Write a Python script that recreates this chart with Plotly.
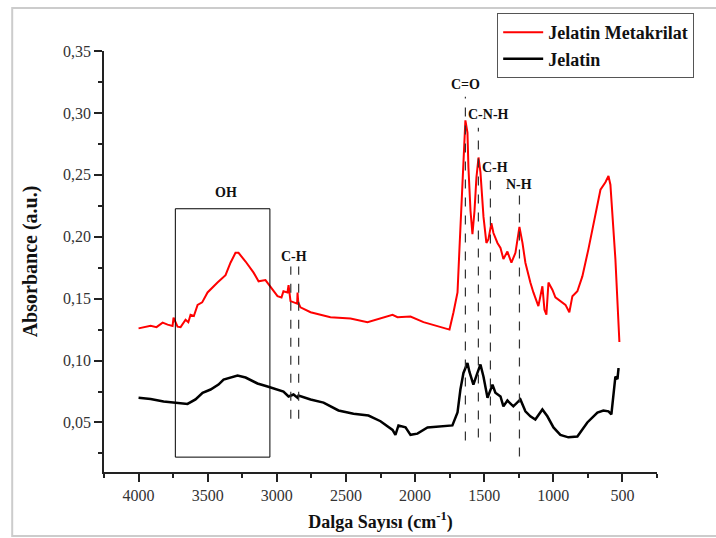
import plotly.graph_objects as go

# ---- data ----
red_x = [4000, 3913, 3870, 3826, 3790, 3754, 3747, 3718, 3696, 3660, 3640, 3624, 3600, 3573, 3540, 3501, 3429,
         3371, 3335, 3299, 3277, 3226, 3168, 3132, 3082, 3046, 2995, 2966, 2952, 2923, 2915, 2901, 2870, 2853,
         2850, 2845, 2829, 2756, 2612, 2467, 2344, 2250, 2163, 2127, 2033, 1939, 1838, 1766, 1751, 1722, 1693,
         1679, 1664, 1650, 1636, 1621, 1614, 1599, 1585, 1570, 1556, 1541, 1527, 1505, 1484, 1469, 1448, 1433,
         1404, 1382, 1361, 1332, 1303, 1274, 1245, 1223, 1202, 1166, 1144, 1108, 1079, 1064, 1050, 1035, 1006,
         985, 949, 912, 884, 862, 826, 790, 746, 696, 659, 623, 601, 587, 551, 522]
red_y = [0.126, 0.128, 0.127, 0.1306, 0.129, 0.128, 0.1347, 0.1274, 0.127, 0.133, 0.131, 0.137, 0.136, 0.145,
         0.147, 0.155, 0.163, 0.169, 0.179, 0.187, 0.187, 0.180, 0.171, 0.164, 0.165, 0.160, 0.152, 0.151, 0.156,
         0.155, 0.161, 0.148, 0.147, 0.146, 0.155, 0.147, 0.143, 0.139, 0.135, 0.134, 0.131, 0.134, 0.137, 0.135,
         0.1355, 0.131, 0.128, 0.126, 0.125, 0.139, 0.155, 0.190, 0.230, 0.256, 0.294, 0.284, 0.256, 0.221, 0.202,
         0.221, 0.248, 0.264, 0.252, 0.216, 0.195, 0.198, 0.211, 0.203, 0.195, 0.191, 0.182, 0.188, 0.179, 0.187,
         0.208, 0.195, 0.179, 0.163, 0.155, 0.144, 0.160, 0.141, 0.137, 0.163, 0.157, 0.151, 0.148, 0.145, 0.139,
         0.152, 0.156, 0.168, 0.190, 0.216, 0.238, 0.244, 0.249, 0.242, 0.182, 0.115]

black_x = [4000, 3913, 3819, 3747, 3646, 3588, 3537, 3479, 3422, 3385, 3284, 3226, 3140, 3067, 3024, 2952, 2915,
           2879, 2850, 2843, 2756, 2662, 2554, 2445, 2337, 2250, 2163, 2142, 2120, 2069, 2033, 1983, 1910, 1795,
           1730, 1693, 1672, 1650, 1621, 1607, 1578, 1549, 1527, 1505, 1476, 1440, 1419, 1382, 1361, 1332, 1289,
           1238, 1202, 1166, 1130, 1079, 1043, 999, 949, 891, 826, 754, 681, 638, 601, 580, 565, 551, 536, 529, 520]
black_y = [0.070, 0.069, 0.067, 0.066, 0.065, 0.0686, 0.074, 0.0766, 0.0806, 0.0847, 0.0879, 0.0863, 0.0815,
           0.079, 0.0774, 0.075, 0.071, 0.0726, 0.070, 0.0718, 0.0686, 0.066, 0.0597, 0.057, 0.0556, 0.051, 0.044,
           0.040, 0.0476, 0.046, 0.040, 0.041, 0.046, 0.047, 0.0476, 0.058, 0.0766, 0.090, 0.098, 0.091, 0.0806,
           0.090, 0.0968, 0.087, 0.070, 0.0806, 0.074, 0.071, 0.063, 0.0677, 0.063, 0.0686, 0.059, 0.055, 0.0524,
           0.0605, 0.055, 0.046, 0.040, 0.038, 0.0387, 0.050, 0.058, 0.0597, 0.059, 0.0565, 0.074, 0.087, 0.085,
           0.093, 0.093]

series_names = ["Jelatin Metakrilat", "Jelatin"]

# band markers: wavenumber, dashed line top/bottom (absorbance)
band_x = [2899, 2842, 1636, 1542, 1455, 1245]
band_top = [0.176, 0.176, 0.313, 0.288, 0.2476, 0.234]
band_bottom = [0.053, 0.053, 0.0355, 0.0379, 0.0347, 0.0226]

label_text = ["OH", "C-H", "C=O", "C-N-H", "C-H", "N-H"]
label_x = [3367, 2879, 1636, 1469, 1419, 1245]
label_y = [0.2355, 0.184, 0.323, 0.299, 0.2556, 0.242]

oh_box_x = [3734, 3050]
oh_box_y = [0.022, 0.2226]

serif = "Liberation Serif"

fig = go.Figure()
fig.add_trace(go.Scatter(x=red_x, y=red_y, mode="lines", name="<b>%s</b>" % series_names[0],
                         line=dict(color="#ff0000", width=2)))
fig.add_trace(go.Scatter(x=black_x, y=black_y, mode="lines", name="<b>%s</b>" % series_names[1],
                         line=dict(color="#000000", width=2.5)))

shapes = []
for bx, t, b in zip(band_x, band_top, band_bottom):
    shapes.append(dict(type="line", xref="x", yref="y", x0=bx, x1=bx, y0=b, y1=t,
                       line=dict(color="#333333", width=1.2, dash="dash")))
shapes.append(dict(type="rect", xref="x", yref="y", x0=oh_box_x[0], x1=oh_box_x[1], y0=oh_box_y[0],
                   y1=oh_box_y[1], line=dict(color="#000000", width=1)))
# outer frame: top, left and bottom sides (right side runs off the picture)
shapes.append(dict(type="path", xref="paper", yref="paper",
                   path="M 1.5,1.102 L -0.166,1.102 L -0.166,-0.152 L 1.5,-0.152",
                   line=dict(color="#cccccc", width=2)))

annotations = []
for t, lx, ly in zip(label_text, label_x, label_y):
    annotations.append(dict(x=lx, y=ly, xref="x", yref="y", text="<b>%s</b>" % t, showarrow=False,
                            font=dict(family=serif, size=14, color="#111111")))

fig.update_layout(
    width=716, height=538,
    margin=dict(l=104, r=59, t=51, b=66, autoexpand=False),
    paper_bgcolor="white", plot_bgcolor="white",
    separators=",.",
    font=dict(family=serif, color="#222222"),
    shapes=shapes,
    annotations=annotations,
    showlegend=True,
    legend=dict(x=0.711, y=1.090, xanchor="left", yanchor="top",
                bordercolor="#555555", borderwidth=1, bgcolor="white",
                font=dict(family=serif, size=18, color="#111111"),
                itemwidth=40),
    xaxis=dict(range=[4250, 250], tickmode="linear", tick0=500, dtick=500,
               showgrid=False, zeroline=False, showline=True, linecolor="#222222", linewidth=1.5,
               ticks="outside", ticklen=8, tickwidth=1.5, tickcolor="#222222",
               minor=dict(ticks="outside", ticklen=4, tickwidth=1.5, tickcolor="#222222", dtick=250,
                          tick0=250, showgrid=False),
               tickfont=dict(family=serif, size=16, color="#333333"),
               title=dict(text="<b>Dalga Sayısı (cm<sup>-1</sup>)</b>", standoff=12,
                          font=dict(family=serif, size=18, color="#111111"))),
    yaxis=dict(range=[0.01, 0.35], tickmode="linear", tick0=0.05, dtick=0.05, tickformat=".2f",
               showgrid=False, zeroline=False, showline=True, linecolor="#222222", linewidth=1.5,
               ticks="outside", ticklen=8, tickwidth=1.5, tickcolor="#222222",
               minor=dict(ticks="outside", ticklen=4, tickwidth=1.5, tickcolor="#222222", dtick=0.025,
                          tick0=0.025, showgrid=False),
               tickfont=dict(family=serif, size=16, color="#333333"),
               title=dict(text="<b>Absorbance (a.u.)</b>", standoff=20,
                          font=dict(family=serif, size=20, color="#111111"))),
)

fig.write_html("out.html")
